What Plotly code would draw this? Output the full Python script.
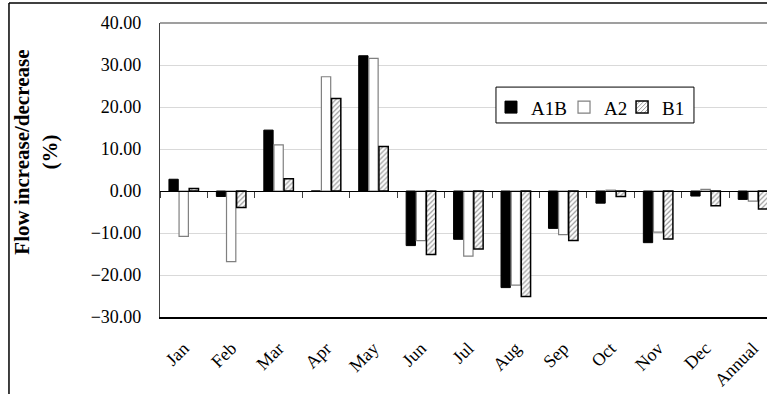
import plotly.graph_objects as go

categories = ["Jan", "Feb", "Mar", "Apr", "May", "Jun", "Jul", "Aug", "Sep", "Oct", "Nov", "Dec", "Annual"]
a1b = [2.8, -1.3, 14.5, 0.0, 32.2, -13.0, -11.5, -23.0, -8.9, -2.9, -12.3, -1.2, -2.0]
a2 = [-10.8, -16.8, 11.0, 27.2, 31.6, -11.8, -15.5, -22.4, -10.4, 0.2, -9.8, 0.4, -2.4]
b1 = [0.6, -3.9, 2.9, 22.0, 10.6, -15.1, -13.8, -25.1, -11.8, -1.3, -11.4, -3.5, -4.3]
y_ticks = [-30, -20, -10, 0, 10, 20, 30, 40]

SERIF = "Liberation Serif, Times New Roman, serif"

fig = go.Figure()
fig.add_trace(go.Bar(name="A1B", x=categories, y=a1b, legend="legend",
                     marker=dict(color="black", line=dict(color="black", width=1))))
fig.add_trace(go.Bar(name="A2", x=categories, y=a2, legend="legend2",
                     marker=dict(color="white", line=dict(color="#808080", width=1.2))))
fig.add_trace(go.Bar(name="B1", x=categories, y=b1, legend="legend3",
                     marker=dict(color="white", line=dict(color="black", width=1.5),
                                 pattern=dict(shape="/", fgcolor="#333333", bgcolor="white",
                                              size=3.5, solidity=0.35))))

x_range = [-0.5, 12.295]

def leg(x):
    return dict(orientation="h", x=x, y=0.778, xanchor="left", yanchor="top",
                borderwidth=0, bgcolor="rgba(0,0,0,0)",
                font=dict(family=SERIF, size=19, color="black"),
                itemwidth=30)

fig.update_layout(
    width=767, height=394,
    margin=dict(l=160, r=0, t=23, b=77),
    paper_bgcolor="white", plot_bgcolor="white",
    barmode="group", bargap=0.36, bargroupgap=0.08,
    font=dict(family=SERIF, color="black"),
    showlegend=True,
    legend=leg(0.5453), legend2=leg(0.6656), legend3=leg(0.7612),
    xaxis=dict(type="category", categoryorder="array", categoryarray=categories,
               range=x_range, showgrid=False, showline=True, linecolor="black", linewidth=1.5,
               mirror=False, ticks="", tickangle=-45, ticklabelstandoff=12,
               tickfont=dict(family=SERIF, size=18, color="black")),
    xaxis2=dict(type="category", categoryorder="array", categoryarray=categories,
                range=x_range, overlaying="x", anchor="free", position=3/7,
                showline=True, linecolor="black", linewidth=1.2,
                ticks="outside", ticklen=6, tickwidth=1, tickcolor="#404040",
                tickson="boundaries",
                showticklabels=False, showgrid=False, zeroline=False),
    yaxis=dict(range=[-30, 40], tickvals=y_ticks, tickformat=".2f",
               showgrid=True, gridcolor="#d9d9d9", gridwidth=1,
               zeroline=False, showline=True, linecolor="#404040", linewidth=1.2,
               mirror=False, ticks="", ticklabelstandoff=14,
               tickfont=dict(family=SERIF, size=18, color="black")),
    annotations=[dict(text="<b>Flow increase/decrease</b><br><b>(%)</b>",
                      xref="paper", yref="paper", x=-0.205, y=0.561,
                      xanchor="center", yanchor="middle", textangle=-90,
                      showarrow=False, font=dict(family=SERIF, size=21, color="black"))],
    shapes=[
        dict(type="line", xref="paper", yref="paper", x0=0, x1=1.0, y0=1.0, y1=1.0,
             line=dict(color="#404040", width=1.2)),
        dict(type="line", xref="paper", yref="paper", x0=-0.2488, x1=1.02, y0=1.068, y1=1.068,
             line=dict(color="black", width=1.5)),
        dict(type="line", xref="paper", yref="paper", x0=-0.2488, x1=-0.2488, y0=1.068, y1=-0.3,
             line=dict(color="black", width=1.5)),
        # legend frame
        dict(type="rect", xref="paper", yref="paper", x0=0.5535, x1=0.8797, y0=0.660, y1=0.782,
             line=dict(color="black", width=1), fillcolor="white", layer="above"),
    ],
)

# invisible helper trace to keep the zero-line axis rendered
fig.add_trace(go.Scatter(x=categories, y=[0]*len(categories), xaxis="x2", mode="lines",
                         line=dict(width=0, color="rgba(0,0,0,0)"), showlegend=False,
                         hoverinfo="skip"))

fig.write_html("out.html")
